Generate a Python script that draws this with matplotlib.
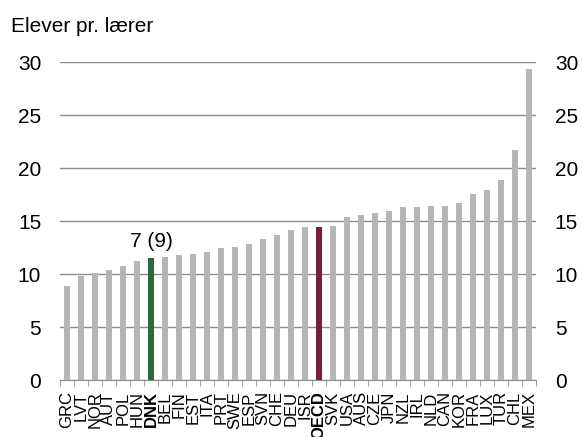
import matplotlib.pyplot as plt
import numpy as np

plt.rcParams["font.family"] = ["Liberation Sans", "DejaVu Sans"]

COUNTRIES = ["GRC", "LVT", "NOR", "AUT", "POL", "HUN", "DNK", "BEL", "FIN", "EST",
             "ITA", "PRT", "SWE", "ESP", "SVN", "CHE", "DEU", "ISR", "OECD", "SVK",
             "USA", "AUS", "CZE", "JPN", "NZL", "IRL", "NLD", "CAN", "KOR", "FRA",
             "LUX", "TUR", "CHL", "MEX"]
PUPILS = [8.9, 9.85, 10.1, 10.35, 10.8, 11.2, 11.5, 11.6, 11.8, 11.9,
          12.1, 12.5, 12.55, 12.8, 13.3, 13.65, 14.15, 14.4, 14.45, 14.5,
          15.4, 15.6, 15.75, 15.95, 16.3, 16.35, 16.4, 16.45, 16.75, 17.6,
          17.95, 18.9, 21.7, 29.3]
HIGHLIGHT = {"DNK": "#2a6a3d", "OECD": "#7a1d3d"}
RANK_LABEL = "7 (9)"

GREY = "#b5b5b5"
GRID = "#8c8c8c"

fig = plt.figure(figsize=(5.82, 4.37), dpi=100)
ax = fig.add_axes([0.103, 0.130, 0.818, 0.728])

x = np.arange(len(COUNTRIES))
colors = [HIGHLIGHT.get(c, GREY) for c in COUNTRIES]
ax.bar(x, PUPILS, width=0.48, color=colors, zorder=3)

dnk = COUNTRIES.index("DNK")
ax.annotate(RANK_LABEL, xy=(dnk, PUPILS[dnk]), xytext=(0, 5), textcoords="offset points",
            ha="center", va="bottom", fontsize=15)

ax.set_xlim(-0.5, len(COUNTRIES) - 0.5)
ax.set_ylim(0, 30)
ax.set_yticks(range(0, 31, 5))
ax.grid(axis="y", color=GRID, linewidth=1.0, zorder=0)
ax.tick_params(axis="y", length=0, labelsize=15, labelright=True, pad=13.5)

ax.set_xticks(x)
ax.set_xticklabels(COUNTRIES, rotation=90, fontsize=12)
for label in ax.get_xticklabels():
    if label.get_text() in HIGHLIGHT:
        label.set_fontweight("bold")
ax.tick_params(axis="x", which="major", length=0, pad=8)
ax.set_xticks(np.append(x - 0.5, x[-1] + 0.5), minor=True)
ax.tick_params(axis="x", which="minor", length=4, color=GRID, direction="out")

for side in ["top", "left", "right"]:
    ax.spines[side].set_visible(False)
ax.spines["bottom"].set_color(GRID)

fig.text(11 / 582, 1 - 31.7 / 437, "Elever pr. lærer", fontsize=15, va="baseline", ha="left")

fig.savefig("out.png", dpi=100, facecolor="white")
